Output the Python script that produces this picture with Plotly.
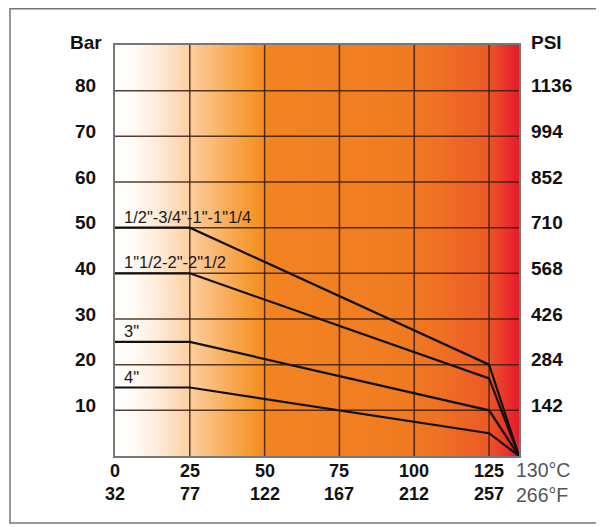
import numpy as np
import plotly.graph_objects as go

# ---------------- data ----------------
temps_c = [0, 25, 125, 130]
series_names = ['1/2"-3/4"-1"-1"1/4', '1"1/2-2"-2"1/2', '3"', '4"']
bar_s1 = [50, 50, 20, 0]
bar_s2 = [40, 40, 17, 0]
bar_s3 = [25, 25, 10, 0]
bar_s4 = [15, 15, 5, 0]

c_ticks = [0, 25, 50, 75, 100, 125]
f_labels = ["32", "77", "122", "167", "212", "257"]
end_c = 130
end_c_label = "130°C"
end_f_label = "266°F"

bar_ticks = [10, 20, 30, 40, 50, 60, 70, 80]
psi_labels = ["142", "284", "426", "568", "710", "852", "994", "1136"]
bar_max = 90
left_title = "Bar"
right_title = "PSI"

# ---------------- helpers ----------------
STRETCH = 2.0  # the last 125->130 segment is drawn wider in the original


def xpos(t):
    return t if t <= 125 else 125 + (t - 125) * STRETCH


XMAX = xpos(end_c)
FONT = "Liberation Sans, Arial, sans-serif"
BOLD = dict(family=FONT, size=19, color="#111", weight="bold")

fig = go.Figure()

# background gradient (white -> orange -> red)
xs = np.linspace(0, XMAX, 406)
stops = [
    (0.0, "#ffffff"), (0.05, "#fffaf5"), (0.111, "#fee9d6"), (0.186, "#fccfa1"),
    (0.272, "#f9af5e"), (0.347, "#f59528"), (0.384, "#f28322"), (0.705, "#f07c22"),
    (0.804, "#ef7023"), (0.921, "#ec5a26"), (0.953, "#ea3e29"), (1.0, "#e7192c"),
]
fig.add_trace(go.Heatmap(x=xs, y=[-5, bar_max + 5], z=[xs, xs], colorscale=stops,
                         showscale=False, hoverinfo="skip", zmin=0, zmax=XMAX))

# grid lines
gx, gy = [], []
for t in c_ticks[1:]:
    gx += [xpos(t), xpos(t), None]
    gy += [0, bar_max, None]
for b in bar_ticks:
    gx += [0, XMAX, None]
    gy += [b, b, None]
fig.add_trace(go.Scatter(x=gx, y=gy, mode="lines", hoverinfo="skip",
                         line=dict(color="rgba(55,28,12,0.85)", width=1.5), showlegend=False))

# curves
xp = [xpos(t) for t in temps_c]
for s in [bar_s1, bar_s2, bar_s3, bar_s4]:
    fig.add_trace(go.Scatter(x=xp, y=s, mode="lines", showlegend=False,
                             line=dict(color="#111111", width=2.2)))

ann = []
# curve labels
for name, s in zip(series_names, [bar_s1, bar_s2, bar_s3, bar_s4]):
    ann.append(dict(x=0, y=s[0], xref="x", yref="y", text=name, showarrow=False,
                    xanchor="left", yanchor="middle", xshift=7, yshift=11,
                    font=dict(family=FONT, size=16.5, color="#1a1a1a")))

# left/right y labels
for b, p in zip(bar_ticks, psi_labels):
    ann.append(dict(x=0, y=b, xref="paper", yref="y", text=str(b), showarrow=False,
                    xanchor="center", yanchor="middle", xshift=-30, yshift=5, font=BOLD))
    ann.append(dict(x=1, y=b, xref="paper", yref="y", text=p, showarrow=False,
                    xanchor="left", yanchor="middle", xshift=10, yshift=5, font=BOLD))
ann.append(dict(x=0, y=bar_max, xref="paper", yref="y", text=left_title, showarrow=False,
                xanchor="center", yanchor="middle", xshift=-29, yshift=3, font=BOLD))
ann.append(dict(x=1, y=bar_max, xref="paper", yref="y", text=right_title, showarrow=False,
                xanchor="left", yanchor="middle", xshift=10, yshift=3, font=BOLD))

# x labels (°C over °F, two lines in one text)
XB = dict(family=FONT, size=18, color="#111", weight="bold")
for c, f in zip(c_ticks, f_labels):
    ann.append(dict(x=xpos(c), y=0, xref="x", yref="paper", text=f"{c}<br>{f}",
                    showarrow=False, xanchor="center", yanchor="middle", align="center",
                    yshift=-26, font=XB))
GRAY = dict(family=FONT, size=19.5, color="#555")
ann.append(dict(x=xpos(end_c), y=0, xref="x", yref="paper",
                text=f"{end_c_label}<br>{end_f_label}", showarrow=False,
                xanchor="left", yanchor="middle", align="left", xshift=-5, yshift=-26,
                font=GRAY))

fig.update_layout(
    width=604, height=527,
    margin=dict(l=107, r=93, t=37, b=79),
    paper_bgcolor="white", plot_bgcolor="white",
    showlegend=False,
    annotations=ann,
    xaxis=dict(range=[0, XMAX], showgrid=False, zeroline=False, showticklabels=False,
               ticks="", showline=True, linecolor="#777", linewidth=1.5, mirror=True,
               fixedrange=True),
    yaxis=dict(range=[0, bar_max], showgrid=False, zeroline=False, showticklabels=False,
               ticks="", showline=True, linecolor="#777", linewidth=1.5, mirror=True,
               fixedrange=True),
    shapes=[dict(type="rect", xref="paper", yref="paper",
                 x0=-0.26, x1=1.25, y0=-0.163, y1=1.0885,
                 line=dict(color="#777", width=1.5), layer="below")],
)

fig.write_html("out.html")
